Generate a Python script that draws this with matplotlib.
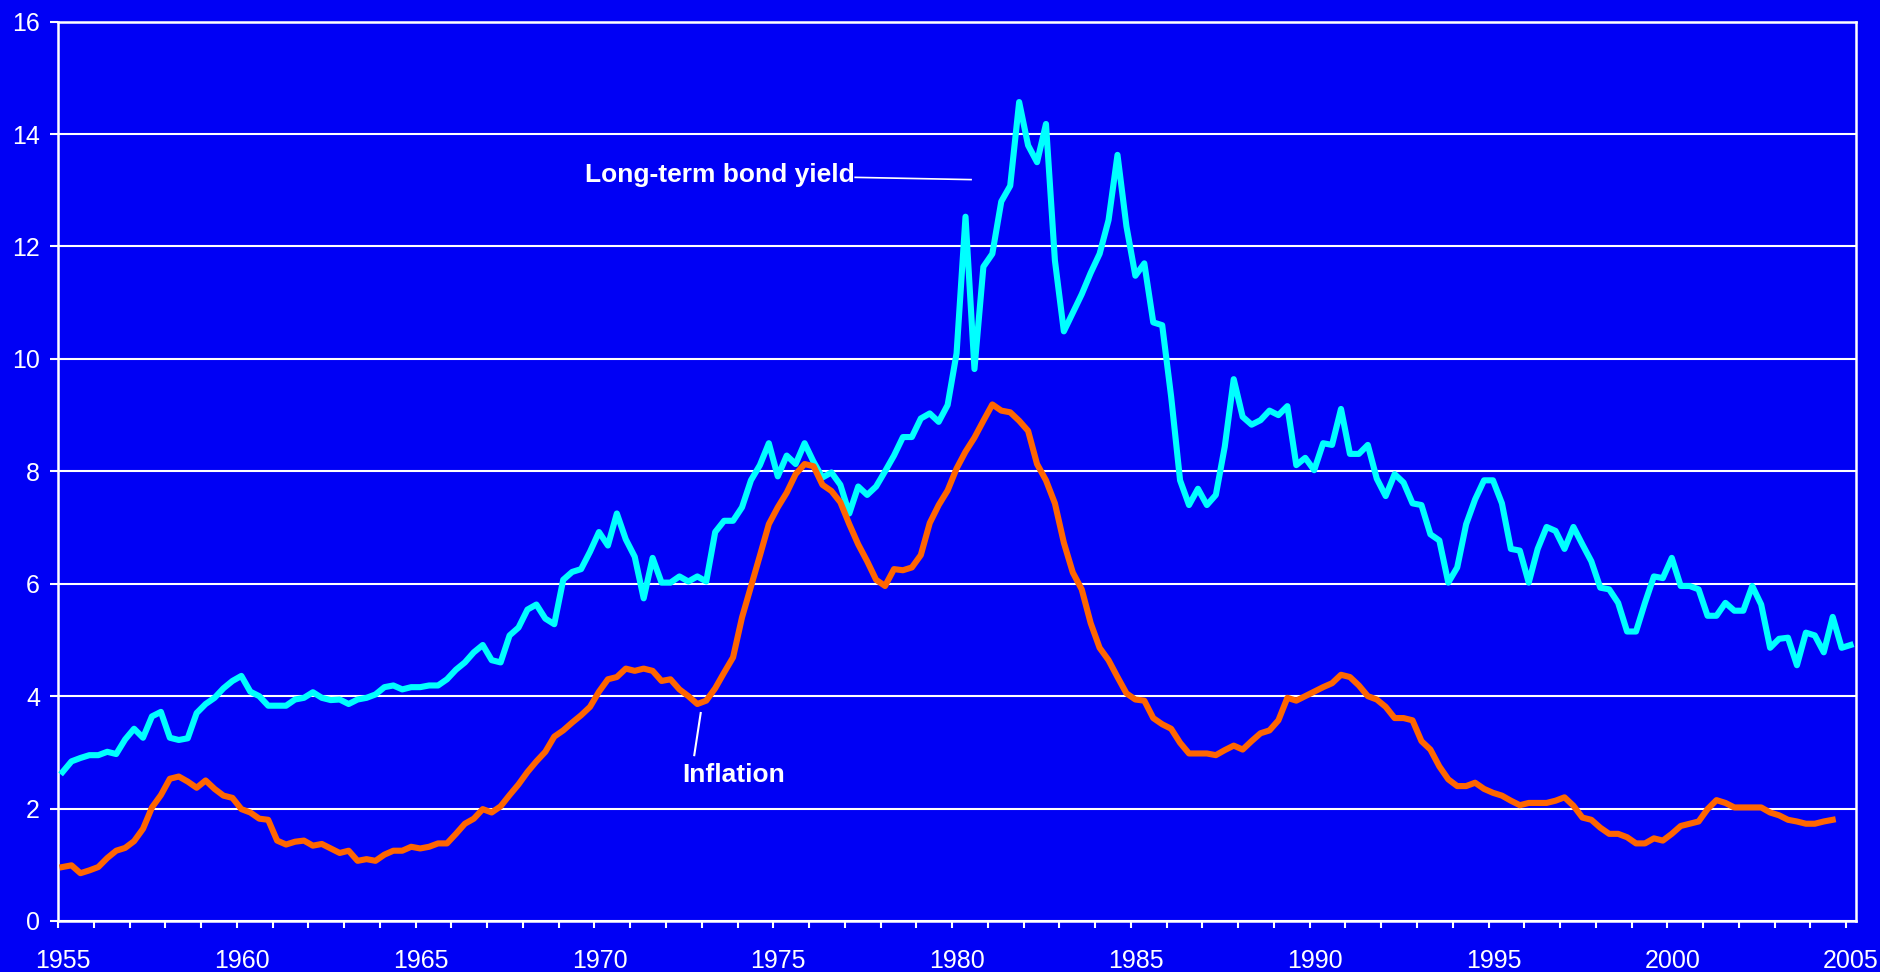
import matplotlib
matplotlib.use("Agg")
import matplotlib.pyplot as plt
import numpy as np

# quarterly data, first quarter 1955
start_year = 1955.125
bond_yield = [
    2.65, 2.84, 2.9, 2.95, 2.95, 3.01, 2.97, 3.23, 3.42, 3.26, 3.64, 3.72, 3.26, 3.22, 3.25, 3.7, 3.86, 3.97, 4.14, 4.27,
    4.36, 4.08, 4.0, 3.83, 3.83, 3.83, 3.94, 3.97, 4.07, 3.97, 3.93, 3.94, 3.86, 3.94, 3.97, 4.03, 4.16, 4.19, 4.12, 4.16,
    4.16, 4.19, 4.19, 4.3, 4.47, 4.6, 4.78, 4.91, 4.64, 4.6, 5.08, 5.22, 5.54, 5.63, 5.38, 5.28, 6.07, 6.21, 6.26, 6.57,
    6.92, 6.68, 7.25, 6.79, 6.48, 5.74, 6.46, 6.02, 6.02, 6.13, 6.04, 6.13, 6.04, 6.92, 7.12, 7.12, 7.36, 7.84, 8.11, 8.5,
    7.91, 8.28, 8.13, 8.5, 8.17, 7.89, 7.98, 7.76, 7.25, 7.73, 7.58, 7.73, 8.0, 8.28, 8.61, 8.61, 8.94, 9.03, 8.88, 9.18,
    10.1, 12.53, 9.82, 11.64, 11.87, 12.8, 13.08, 14.57, 13.8, 13.5, 14.18, 11.75, 10.49, 10.82, 11.15, 11.53, 11.87, 12.47, 13.63, 12.36,
    11.48, 11.7, 10.65, 10.6, 9.33, 7.84, 7.4, 7.69, 7.4, 7.58, 8.44, 9.64, 8.97, 8.83, 8.91, 9.08, 9.0, 9.16, 8.11, 8.24,
    8.02, 8.5, 8.47, 9.11, 8.31, 8.31, 8.47, 7.87, 7.56, 7.95, 7.8, 7.43, 7.4, 6.88, 6.77, 6.02, 6.29, 7.06, 7.5, 7.84,
    7.84, 7.43, 6.62, 6.59, 6.02, 6.62, 7.01, 6.94, 6.62, 7.01, 6.7, 6.4, 5.93, 5.9, 5.66, 5.15, 5.15, 5.66, 6.13, 6.1,
    6.46, 5.96, 5.96, 5.9, 5.43, 5.43, 5.66, 5.52, 5.52, 5.96, 5.63, 4.86, 5.02, 5.04, 4.55, 5.13, 5.08, 4.78, 5.41, 4.86,
    4.91,
]
inflation = [
    0.96, 0.99, 0.85, 0.9, 0.96, 1.12, 1.25, 1.3, 1.42, 1.64, 2.02, 2.24, 2.53, 2.57, 2.48, 2.37, 2.5, 2.35, 2.23, 2.19,
    1.99, 1.93, 1.82, 1.8, 1.43, 1.36, 1.41, 1.43, 1.34, 1.37, 1.29, 1.21, 1.25, 1.07, 1.1, 1.07, 1.18, 1.25, 1.25, 1.32,
    1.29, 1.32, 1.38, 1.38, 1.55, 1.73, 1.82, 1.99, 1.93, 2.04, 2.24, 2.43, 2.65, 2.84, 3.01, 3.28, 3.39, 3.53, 3.66, 3.81,
    4.08, 4.3, 4.34, 4.49, 4.45, 4.49, 4.45, 4.27, 4.3, 4.12, 4.0, 3.86, 3.92, 4.14, 4.42, 4.69, 5.4, 5.95, 6.5, 7.06,
    7.36, 7.62, 7.95, 8.13, 8.09, 7.76, 7.65, 7.45, 7.06, 6.7, 6.4, 6.07, 5.96, 6.26, 6.24, 6.29, 6.51, 7.08, 7.4, 7.66,
    8.05, 8.35, 8.6, 8.9, 9.19, 9.08, 9.05, 8.9, 8.72, 8.13, 7.84, 7.43, 6.73, 6.2, 5.9, 5.3, 4.86, 4.64, 4.34, 4.05,
    3.94, 3.92, 3.61, 3.5, 3.42, 3.17, 2.98, 2.98, 2.98, 2.95, 3.04, 3.12, 3.05, 3.2, 3.34, 3.39, 3.57, 3.97, 3.92, 4.0,
    4.08, 4.16, 4.23, 4.38, 4.34, 4.19, 4.0, 3.94, 3.81, 3.61, 3.61, 3.57, 3.2, 3.05, 2.75, 2.52, 2.4, 2.4, 2.46, 2.35,
    2.28, 2.23, 2.14, 2.06, 2.1, 2.1, 2.1, 2.14, 2.2, 2.05, 1.84, 1.8, 1.66, 1.55, 1.55, 1.49, 1.38, 1.38, 1.47, 1.43,
    1.55, 1.69, 1.73, 1.77, 1.99, 2.15, 2.1, 2.02, 2.02, 2.02, 2.02, 1.93, 1.88, 1.8, 1.77, 1.73, 1.73, 1.77, 1.8,
]
label_years = [1955, 1960, 1965, 1970, 1975, 1980, 1985, 1990, 1995, 2000, 2005]
y_ticks = [0, 2, 4, 6, 8, 10, 12, 14, 16]

bg = '#0000F5'
plt.rcParams['font.family'] = ['Liberation Sans', 'DejaVu Sans']

fig = plt.figure(figsize=(18.8, 9.72), dpi=100, facecolor=bg)
ax = fig.add_axes([0.0309, 0.0525, 0.9564, 0.9252])
ax.set_facecolor(bg)

x_bond = start_year + 0.25 * np.arange(len(bond_yield))
x_infl = start_year + 0.25 * np.arange(len(inflation))
ax.plot(x_bond, bond_yield, color='#00FFFF', lw=4.4, solid_joinstyle='round', zorder=3)
ax.plot(x_infl, inflation, color='#FF6600', lw=4.4, solid_joinstyle='round', zorder=4)

ax.set_xlim(1955, 2005.28)
ax.set_ylim(0, 16)

# year tick marks, labels sit on the first quarter of each year
ax.set_xticks(np.arange(1955, 2006))
ax.tick_params(axis='x', which='major', length=5, width=1.5, color='white', labelbottom=False)
ax.set_xticks([y + 0.14 for y in label_years], minor=True)
ax.set_xticklabels([str(y) for y in label_years], minor=True)
ax.tick_params(axis='x', which='minor', length=0, pad=20, labelsize=18, labelcolor='white')

ax.set_yticks(y_ticks)
ax.set_yticklabels([str(v) for v in y_ticks])
ax.tick_params(axis='y', length=6, width=1.5, color='white', pad=7, labelsize=18, labelcolor='white')

ax.grid(axis='y', color='white', lw=1.5, zorder=1)
for s in ax.spines.values():
    s.set_color('white')
    s.set_linewidth(1.8)

# labels
ax.text(1977.29, 13.27, 'Long-term bond yield', color='white', fontsize=19, fontweight='bold',
        ha='right', va='center', zorder=5)
ax.plot([1977.29, 1980.53], [13.23, 13.19], color='white', lw=1.2, zorder=5)
ax.text(1973.89, 2.6, 'Inflation', color='white', fontsize=19, fontweight='bold',
        ha='center', va='center', zorder=5)
ax.plot([1972.79, 1972.97], [2.95, 3.70], color='white', lw=1.5, zorder=5)

fig.savefig('out.png', dpi=100, facecolor=bg)
